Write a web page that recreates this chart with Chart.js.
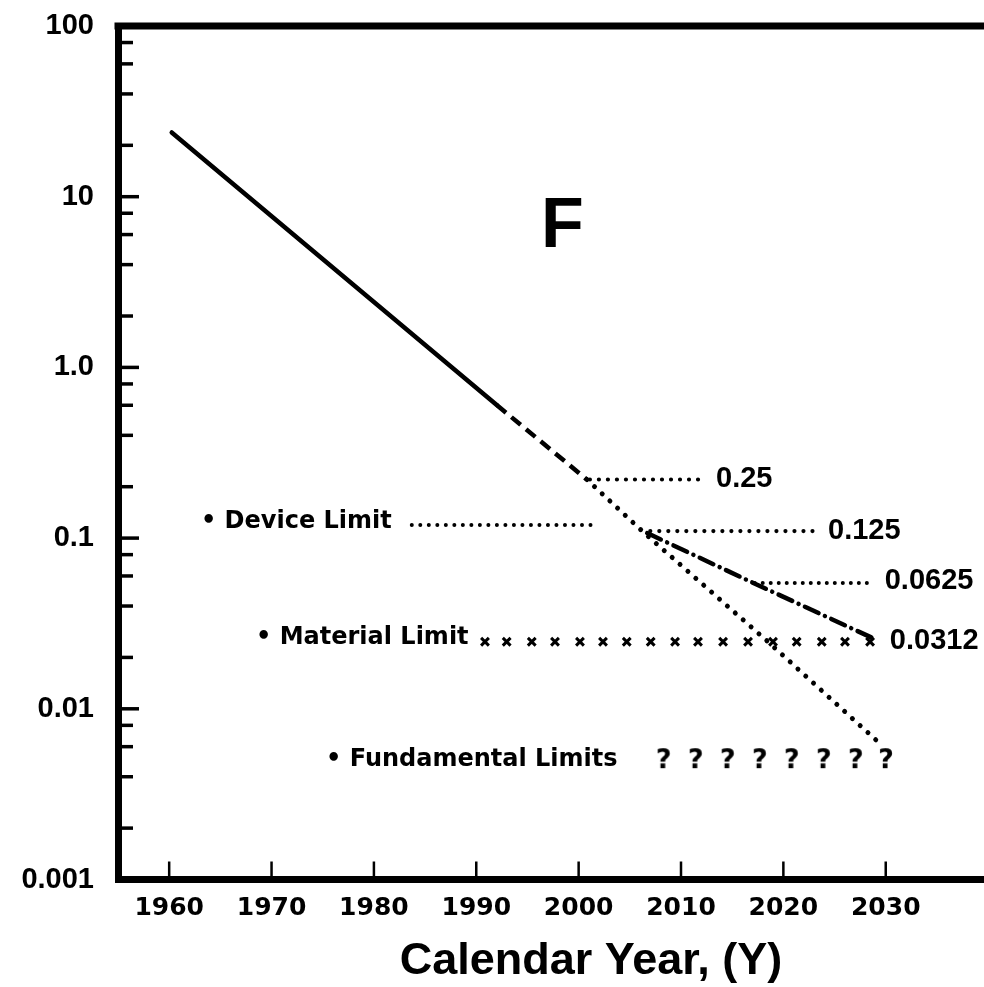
<!DOCTYPE html>
<html><head><meta charset="utf-8">
<script src="https://cdn.jsdelivr.net/npm/chart.js@4.4.0/dist/chart.umd.min.js"></script>
<style>html,body{margin:0;padding:0;background:#fff;overflow:hidden}canvas{display:block}</style>
</head><body>
<canvas id="c" width="984" height="987"></canvas>
<script>
// ---- tick data ----
const xTickYears = [1960, 1970, 1980, 1990, 2000, 2010, 2020, 2030];
const yMajorTicks = [0.001, 0.01, 0.1, 1, 10, 100];
const yTickLabels = ['0.001', '0.01', '0.1', '1.0', '10', '100'];
const yMinorTicks = [0.002, 0.004, 0.006, 0.008, 0.02, 0.04, 0.06, 0.08, 0.2, 0.4, 0.6, 0.8, 2, 4, 6, 8, 20, 40, 60, 80];

// ---- series data ----
const trendSolidYears = [1960.25, 1992.0];
const trendSolidValues = [23.8, 0.602];
const trendDashedYears = [1992.0, 2000.8];
const trendDashedValues = [0.602, 0.2205];
const trendDottedYears = [2000.8, 2006.3, 2018.5, 2029.25];
const trendDottedValues = [0.2205, 0.1086, 0.0247, 0.0064];
const dashDotYears = [2006.7, 2016.45, 2028.7];
const dashDotValues = [0.107, 0.0568, 0.026];
const level025Years = [2001.1, 2012.5];
const level025Values = [0.2205, 0.2205];
const deviceLimitYears = [1983.7, 2001.3];
const deviceLimitValues = [0.1194, 0.1194];
const level0125Years = [2007.0, 2023.1];
const level0125Values = [0.110, 0.110];
const level00625Years = [2017.2, 2028.5];
const level00625Values = [0.0546, 0.0546];
const materialLimitYears = [1990.85, 1992.97, 1995.42, 1997.69, 2000.13, 2002.38, 2004.70, 2007.04, 2009.42, 2011.66, 2014.11, 2016.55, 2018.99, 2021.30, 2023.75, 2026.02, 2028.47];
const materialLimitValues = [0.0247, 0.0247, 0.0247, 0.0247, 0.0247, 0.0247, 0.0247, 0.0247, 0.0247, 0.0247, 0.0247, 0.0247, 0.0247, 0.0247, 0.0247, 0.0247, 0.0247];
const fundamentalYears = [2008.3, 2011.43, 2014.56, 2017.69, 2020.81, 2023.94, 2027.07, 2030.02];
const fundamentalValues = [0.0050, 0.0050, 0.0050, 0.0050, 0.0050, 0.0050, 0.0050, 0.0050];

// ---- text annotations ----
const labelTexts = ['• Device Limit', '• Material Limit', '• Fundamental Limits', '0.25', '0.125', '0.0625', '0.0312', 'F'];
const labelYears = [1963.1, 1968.48, 1975.32, 2013.42, 2024.36, 2029.9, 2030.4, 1998.4];
const labelValues = [0.1247, 0.0260, 0.00501, 0.2205, 0.110, 0.0561, 0.0249, 6.56];
const xTitle = 'Calendar Year, (Y)';

const WORD_FONT = 'bold 24px "DejaVu Sans"';
const NUM_FONT = 'bold 29px "Liberation Sans"';
const labelFonts = [WORD_FONT, WORD_FONT, WORD_FONT, NUM_FONT, NUM_FONT, NUM_FONT, NUM_FONT, 'bold 70px "Liberation Sans"'];
const labelAligns = ['left', 'left', 'left', 'left', 'left', 'left', 'left', 'center'];

function pts(xs, ys) { return xs.map((x, i) => ({ x: x, y: ys[i] })); }

function makeQuestion() {
  const c = document.createElement('canvas');
  c.width = 24; c.height = 32;
  const g = c.getContext('2d');
  g.font = 'bold 27px "DejaVu Sans"';
  g.textAlign = 'center';
  g.textBaseline = 'middle';
  g.fillStyle = '#000';
  g.fillText('?', 12, 17);
  return c;
}

const lineBase = { showLine: true, pointRadius: 0, borderColor: '#000', backgroundColor: '#000', tension: 0, fill: false };

const decor = {
  id: 'decor',
  afterDraw(chart) {
    const ctx = chart.ctx;
    const ca = chart.chartArea;
    const xs = chart.scales.x, ys = chart.scales.y;
    ctx.save();
    ctx.strokeStyle = '#000';
    ctx.lineCap = 'butt';
    // top frame line
    ctx.lineWidth = 7;
    ctx.beginPath();
    ctx.moveTo(ca.left - 3.5, ca.top);
    ctx.lineTo(ca.right, ca.top);
    ctx.stroke();
    // y ticks (inside)
    ctx.lineWidth = 3.5;
    yMajorTicks.forEach(v => {
      if (v === 100 || v === 0.001) return;
      const y = ys.getPixelForValue(v);
      ctx.beginPath(); ctx.moveTo(ca.left + 3, y); ctx.lineTo(ca.left + 21, y); ctx.stroke();
    });
    yMinorTicks.forEach(v => {
      const y = ys.getPixelForValue(v);
      ctx.beginPath(); ctx.moveTo(ca.left + 3, y); ctx.lineTo(ca.left + 15, y); ctx.stroke();
    });
    // x ticks (inside)
    ctx.lineWidth = 2.5;
    xTickYears.forEach(v => {
      const x = xs.getPixelForValue(v);
      ctx.beginPath(); ctx.moveTo(x, ca.bottom - 3); ctx.lineTo(x, ca.bottom - 18); ctx.stroke();
    });
    // annotations
    ctx.fillStyle = '#000';
    ctx.textBaseline = 'middle';
    labelTexts.forEach((t, i) => {
      ctx.font = labelFonts[i];
      ctx.textAlign = labelAligns[i];
      ctx.fillText(t, xs.getPixelForValue(labelYears[i]), ys.getPixelForValue(labelValues[i]));
    });
    // axis title
    ctx.font = 'bold 45px "Liberation Sans"';
    ctx.textAlign = 'center';
    ctx.textBaseline = 'alphabetic';
    ctx.fillText(xTitle, (ca.left + ca.right) / 2 + 40, chart.height - 13);
    ctx.restore();
  }
};

function noPad(s) { s.paddingLeft = 0; s.paddingRight = 0; s.paddingTop = 0; s.paddingBottom = 0; }

new Chart(document.getElementById('c'), {
  type: 'scatter',
  data: {
    datasets: [
      Object.assign({}, lineBase, { data: pts(trendSolidYears, trendSolidValues), borderWidth: 4.5, borderCapStyle: 'round' }),
      Object.assign({}, lineBase, { data: pts(trendDashedYears, trendDashedValues), borderWidth: 4.5, borderDash: [12, 7] }),
      Object.assign({}, lineBase, { data: pts(trendDottedYears, trendDottedValues), borderWidth: 5, borderDash: [0.01, 10.5], borderCapStyle: 'round' }),
      Object.assign({}, lineBase, { data: pts(dashDotYears, dashDotValues), borderWidth: 4.5, borderDash: [15, 7, 0.01, 7], borderCapStyle: 'round' }),
      Object.assign({}, lineBase, { data: pts(level025Years, level025Values), borderWidth: 4.2, borderDash: [0.01, 9], borderCapStyle: 'round' }),
      Object.assign({}, lineBase, { data: pts(deviceLimitYears, deviceLimitValues), borderWidth: 4, borderDash: [0.01, 8.5], borderCapStyle: 'round' }),
      Object.assign({}, lineBase, { data: pts(level0125Years, level0125Values), borderWidth: 4.2, borderDash: [0.01, 9], borderCapStyle: 'round' }),
      Object.assign({}, lineBase, { data: pts(level00625Years, level00625Values), borderWidth: 4, borderDash: [0.01, 8], borderCapStyle: 'round' }),
      { data: pts(materialLimitYears, materialLimitValues), showLine: false, pointStyle: 'crossRot', pointRadius: 5.5, borderWidth: 3, borderColor: '#000', backgroundColor: '#000' },
      { data: pts(fundamentalYears, fundamentalValues), showLine: false, pointStyle: makeQuestion(), pointRadius: 8 }
    ]
  },
  options: {
    responsive: false,
    animation: false,
    events: [],
    layout: { autoPadding: false, padding: { top: 26, right: 0, left: 0, bottom: 0 } },
    plugins: { legend: { display: false }, tooltip: { enabled: false } },
    scales: {
      x: {
        type: 'linear', min: 1955, max: 2039.6,
        afterBuildTicks: s => { s.ticks = xTickYears.map(v => ({ value: v })); },
        afterFit: s => { s.height = 107.5; noPad(s); },
        grid: { display: false, drawTicks: false },
        border: { display: true, color: '#000', width: 7 },
        ticks: { color: '#000', padding: 14, maxRotation: 0, autoSkip: false,
          font: { family: 'DejaVu Sans', weight: 'bold', size: 25 },
          callback: v => String(v) }
      },
      y: {
        type: 'logarithmic', min: 0.001, max: 100,
        afterBuildTicks: s => { s.ticks = yMajorTicks.map(v => ({ value: v })); },
        afterFit: s => { s.width = 118; noPad(s); },
        grid: { display: false, drawTicks: false },
        border: { display: true, color: '#000', width: 7 },
        ticks: { color: '#000', padding: 24, autoSkip: false,
          font: { family: 'Liberation Sans', weight: 'bold', size: 29 },
          callback: v => {
            const i = yMajorTicks.findIndex(t => Math.abs(t - v) / t < 1e-6);
            return i >= 0 ? yTickLabels[i] : '';
          } }
      }
    }
  },
  plugins: [decor]
});
</script>
</body></html>
